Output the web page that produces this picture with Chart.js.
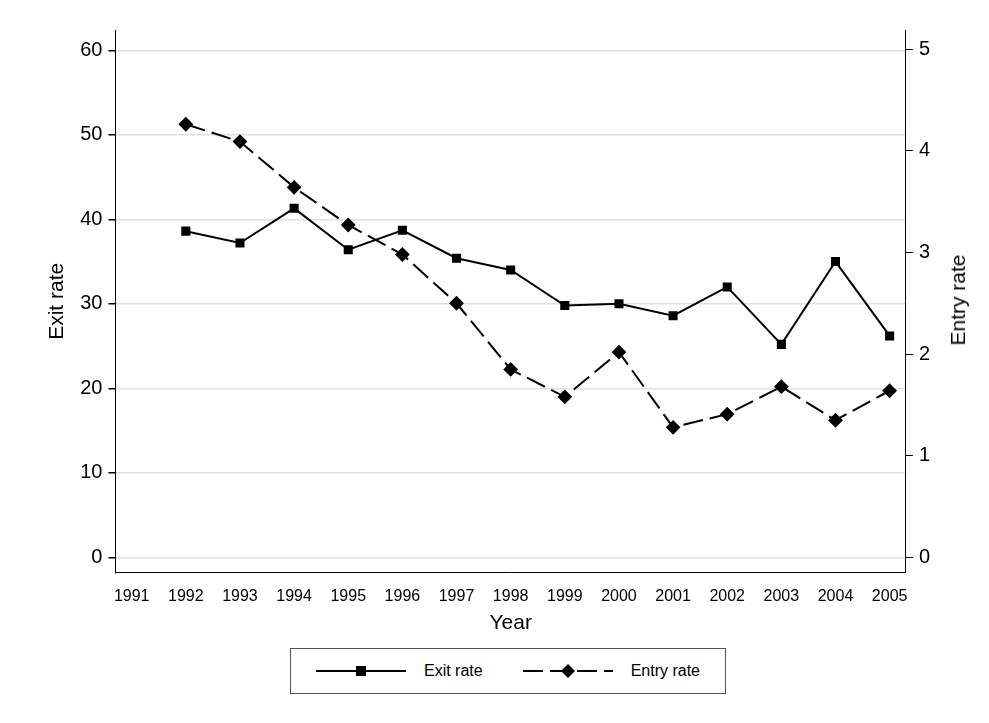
<!DOCTYPE html>
<html>
<head>
<meta charset="utf-8">
<script src="https://cdn.jsdelivr.net/npm/chart.js@4/dist/chart.umd.min.js"></script>
<style>
  body { margin: 0; background: #fff; font-family: "Liberation Sans", Arial, sans-serif; }
  #wrap { position: relative; width: 989px; height: 640px; }
  #rtitle { position: absolute; left: 958px; top: 300px; transform: translate(-50%, -50%) rotate(-90deg);
    font-size: 21px; white-space: nowrap; }
  #legend { position: absolute; left: 290px; top: 648px; width: 436px; height: 46px;
    border: 1px solid #555; box-sizing: border-box; display: flex; align-items: center;
    justify-content: center; gap: 40px; font-size: 16px; }
  .item { display: flex; align-items: center; gap: 18px; }
</style>
</head>
<body>
<div id="wrap"><canvas id="c" width="989" height="640"></canvas><div id="rtitle">Entry rate</div></div>
<div id="legend">
  <div class="item"><svg width="90" height="20"><line x1="0" y1="10" x2="90" y2="10" stroke="#000" stroke-width="2"/><rect x="40" y="5" width="10" height="10" fill="#000"/></svg><span>Exit rate</span></div>
  <div class="item"><svg width="90" height="20"><line x1="0" y1="10" x2="90" y2="10" stroke="#000" stroke-width="2" stroke-dasharray="20,7"/><polygon points="45,3 52,10 45,17 38,10" fill="#000"/></svg><span>Entry rate</span></div>
</div>
<script>
const years = [1992, 1993, 1994, 1995, 1996, 1997, 1998, 1999, 2000, 2001, 2002, 2003, 2004, 2005];
const exitRate = [38.6, 37.2, 41.3, 36.4, 38.7, 35.4, 34.0, 29.8, 30.0, 28.6, 32.0, 25.2, 35.0, 26.2];
const entryRate = [4.26, 4.09, 3.64, 3.27, 2.98, 2.50, 1.85, 1.58, 2.02, 1.28, 1.41, 1.68, 1.35, 1.64];
const leftTicks = [0, 10, 20, 30, 40, 50, 60];
const rightTicks = [0, 1, 2, 3, 4, 5];
const xTicks = [1991, 1992, 1993, 1994, 1995, 1996, 1997, 1998, 1999, 2000, 2001, 2002, 2003, 2004, 2005];

const pts = (ys) => years.map((x, i) => ({ x, y: ys[i] }));
const tickFont = { family: "Liberation Sans", size: 20 };

new Chart(document.getElementById("c"), {
    type: "line",
    data: {
        datasets: [
            { label: "Exit rate", data: pts(exitRate), yAxisID: "y", borderColor: "#000", backgroundColor: "#000",
              borderWidth: 2, pointStyle: "rect", pointRadius: 5, tension: 0 },
            { label: "Entry rate", data: pts(entryRate), yAxisID: "y2", borderColor: "#000", backgroundColor: "#000",
              borderWidth: 2, borderDash: [20, 7], pointStyle: "rectRot", pointRadius: 6, tension: 0 }
        ]
    },
    options: {
        responsive: false,
        animation: false,
        layout: { padding: { top: 30, left: 41, right: 53, bottom: 0 } },
        plugins: { legend: { display: false }, tooltip: { enabled: false } },
        scales: {
            x: {
                type: "linear", min: 1990.7, max: 2005.3,
                afterBuildTicks: (s) => { s.ticks = xTicks.map(v => ({ value: v })); },
                ticks: { callback: (v) => String(v), color: "#000", font: { family: "Liberation Sans", size: 16 }, maxRotation: 0, autoSkip: false, padding: 4 },
                grid: { display: false, drawTicks: true, tickLength: 10, color: "#000" },
                border: { color: "#000", width: 1 },
                title: { display: true, text: "Year", color: "#000", font: { family: "Liberation Sans", size: 21 }, padding: { top: 1 } }
            },
            y: {
                position: "left", min: -1.8, max: 62.4,
                afterBuildTicks: (s) => { s.ticks = leftTicks.map(v => ({ value: v })); },
                ticks: { color: "#000", font: tickFont, padding: 6 },
                grid: { color: "#e0e0e0", lineWidth: 1.5, tickLength: 7, tickColor: "#000" },
                border: { color: "#000" },
                title: { display: true, text: "Exit rate", color: "#000", font: { family: "Liberation Sans", size: 21 } }
            },
            y2: {
                position: "right", min: -0.148, max: 5.187,
                afterBuildTicks: (s) => { s.ticks = rightTicks.map(v => ({ value: v })); },
                ticks: { color: "#000", font: tickFont, padding: 6 },
                grid: { drawOnChartArea: false, tickLength: 7, color: "#000" },
                border: { color: "#000" }
            }
        }
    }
});
</script>
</body>
</html>
